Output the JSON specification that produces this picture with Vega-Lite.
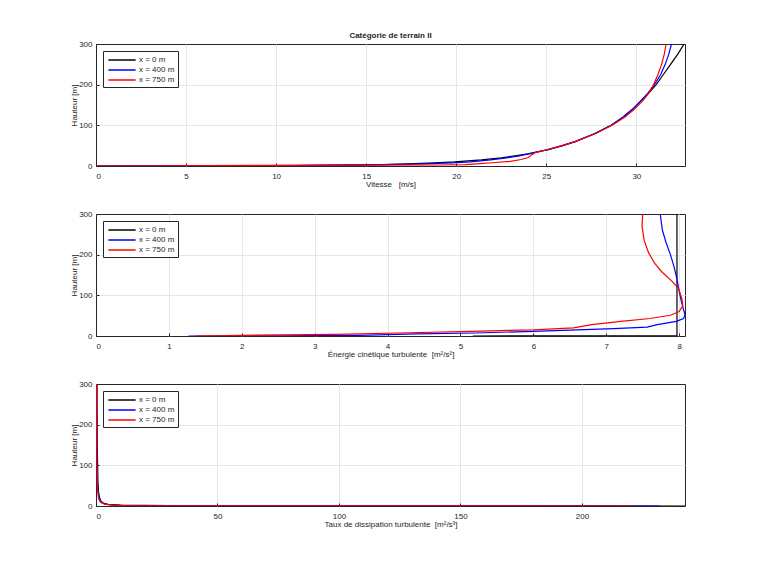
{
  "$schema": "https://vega.github.io/schema/vega-lite/v6.json",
  "background": "white",
  "padding": {"left": 70, "top": 31, "right": 10, "bottom": 10},
  "spacing": 20,
  "datasets": {
    "vitesse": [
      {"profil": "x = 0 m", "valeur": 0, "hauteur": 0},
      {"profil": "x = 0 m", "valeur": 6.7, "hauteur": 0.3},
      {"profil": "x = 0 m", "valeur": 9.3, "hauteur": 0.6},
      {"profil": "x = 0 m", "valeur": 11.2, "hauteur": 1},
      {"profil": "x = 0 m", "valeur": 13.8, "hauteur": 2},
      {"profil": "x = 0 m", "valeur": 15.9, "hauteur": 3.5},
      {"profil": "x = 0 m", "valeur": 17.3, "hauteur": 5},
      {"profil": "x = 0 m", "valeur": 18.8, "hauteur": 7.5},
      {"profil": "x = 0 m", "valeur": 19.9, "hauteur": 10},
      {"profil": "x = 0 m", "valeur": 21.4, "hauteur": 15},
      {"profil": "x = 0 m", "valeur": 22.5, "hauteur": 20},
      {"profil": "x = 0 m", "valeur": 24.0, "hauteur": 30},
      {"profil": "x = 0 m", "valeur": 25.1, "hauteur": 40},
      {"profil": "x = 0 m", "valeur": 25.9, "hauteur": 50},
      {"profil": "x = 0 m", "valeur": 26.6, "hauteur": 60},
      {"profil": "x = 0 m", "valeur": 27.7, "hauteur": 80},
      {"profil": "x = 0 m", "valeur": 28.6, "hauteur": 100},
      {"profil": "x = 0 m", "valeur": 29.25, "hauteur": 120},
      {"profil": "x = 0 m", "valeur": 29.8, "hauteur": 140},
      {"profil": "x = 0 m", "valeur": 30.25, "hauteur": 160},
      {"profil": "x = 0 m", "valeur": 30.7, "hauteur": 180},
      {"profil": "x = 0 m", "valeur": 31.1, "hauteur": 200},
      {"profil": "x = 0 m", "valeur": 31.5, "hauteur": 225},
      {"profil": "x = 0 m", "valeur": 31.9, "hauteur": 250},
      {"profil": "x = 0 m", "valeur": 32.3, "hauteur": 275},
      {"profil": "x = 0 m", "valeur": 32.65, "hauteur": 300},
      {"profil": "x = 400 m", "valeur": 0, "hauteur": 0},
      {"profil": "x = 400 m", "valeur": 3.5, "hauteur": 0.3},
      {"profil": "x = 400 m", "valeur": 6.5, "hauteur": 0.6},
      {"profil": "x = 400 m", "valeur": 9.5, "hauteur": 1},
      {"profil": "x = 400 m", "valeur": 13.0, "hauteur": 2},
      {"profil": "x = 400 m", "valeur": 16.0, "hauteur": 3.5},
      {"profil": "x = 400 m", "valeur": 18.2, "hauteur": 5},
      {"profil": "x = 400 m", "valeur": 19.8, "hauteur": 7.5},
      {"profil": "x = 400 m", "valeur": 20.8, "hauteur": 10},
      {"profil": "x = 400 m", "valeur": 21.9, "hauteur": 15},
      {"profil": "x = 400 m", "valeur": 22.8, "hauteur": 20},
      {"profil": "x = 400 m", "valeur": 23.5, "hauteur": 25},
      {"profil": "x = 400 m", "valeur": 24.0, "hauteur": 30},
      {"profil": "x = 400 m", "valeur": 24.3, "hauteur": 33},
      {"profil": "x = 400 m", "valeur": 24.6, "hauteur": 36},
      {"profil": "x = 400 m", "valeur": 25.1, "hauteur": 40},
      {"profil": "x = 400 m", "valeur": 25.9, "hauteur": 50},
      {"profil": "x = 400 m", "valeur": 26.6, "hauteur": 60},
      {"profil": "x = 400 m", "valeur": 27.7, "hauteur": 80},
      {"profil": "x = 400 m", "valeur": 28.6, "hauteur": 100},
      {"profil": "x = 400 m", "valeur": 29.25, "hauteur": 120},
      {"profil": "x = 400 m", "valeur": 29.8, "hauteur": 140},
      {"profil": "x = 400 m", "valeur": 30.25, "hauteur": 160},
      {"profil": "x = 400 m", "valeur": 30.65, "hauteur": 180},
      {"profil": "x = 400 m", "valeur": 31.0, "hauteur": 200},
      {"profil": "x = 400 m", "valeur": 31.35, "hauteur": 225},
      {"profil": "x = 400 m", "valeur": 31.6, "hauteur": 250},
      {"profil": "x = 400 m", "valeur": 31.8, "hauteur": 275},
      {"profil": "x = 400 m", "valeur": 31.95, "hauteur": 300},
      {"profil": "x = 750 m", "valeur": 0, "hauteur": 0},
      {"profil": "x = 750 m", "valeur": 3, "hauteur": 0.5},
      {"profil": "x = 750 m", "valeur": 6, "hauteur": 1},
      {"profil": "x = 750 m", "valeur": 10, "hauteur": 1.5},
      {"profil": "x = 750 m", "valeur": 15, "hauteur": 2},
      {"profil": "x = 750 m", "valeur": 19, "hauteur": 2.5},
      {"profil": "x = 750 m", "valeur": 20.5, "hauteur": 3.5},
      {"profil": "x = 750 m", "valeur": 21.3, "hauteur": 6},
      {"profil": "x = 750 m", "valeur": 22.0, "hauteur": 8},
      {"profil": "x = 750 m", "valeur": 23.0, "hauteur": 11.5},
      {"profil": "x = 750 m", "valeur": 23.6, "hauteur": 16},
      {"profil": "x = 750 m", "valeur": 24.0, "hauteur": 21},
      {"profil": "x = 750 m", "valeur": 24.2, "hauteur": 28},
      {"profil": "x = 750 m", "valeur": 24.4, "hauteur": 33},
      {"profil": "x = 750 m", "valeur": 25.0, "hauteur": 40},
      {"profil": "x = 750 m", "valeur": 25.85, "hauteur": 50},
      {"profil": "x = 750 m", "valeur": 26.6, "hauteur": 60},
      {"profil": "x = 750 m", "valeur": 27.75, "hauteur": 80},
      {"profil": "x = 750 m", "valeur": 28.65, "hauteur": 100},
      {"profil": "x = 750 m", "valeur": 29.35, "hauteur": 120},
      {"profil": "x = 750 m", "valeur": 29.9, "hauteur": 140},
      {"profil": "x = 750 m", "valeur": 30.35, "hauteur": 160},
      {"profil": "x = 750 m", "valeur": 30.7, "hauteur": 180},
      {"profil": "x = 750 m", "valeur": 30.95, "hauteur": 200},
      {"profil": "x = 750 m", "valeur": 31.2, "hauteur": 225},
      {"profil": "x = 750 m", "valeur": 31.4, "hauteur": 250},
      {"profil": "x = 750 m", "valeur": 31.55, "hauteur": 275},
      {"profil": "x = 750 m", "valeur": 31.65, "hauteur": 300}
    ],
    "tke": [
      {"profil": "x = 0 m", "valeur": 5.17, "hauteur": 0},
      {"profil": "x = 0 m", "valeur": 7.97, "hauteur": 0.5},
      {"profil": "x = 0 m", "valeur": 7.97, "hauteur": 300},
      {"profil": "x = 400 m", "valeur": 1.27, "hauteur": 0},
      {"profil": "x = 400 m", "valeur": 2.5, "hauteur": 0.3},
      {"profil": "x = 400 m", "valeur": 3.6, "hauteur": 1.5},
      {"profil": "x = 400 m", "valeur": 4.4, "hauteur": 5},
      {"profil": "x = 400 m", "valeur": 5.2, "hauteur": 7.4},
      {"profil": "x = 400 m", "valeur": 6.0, "hauteur": 11.5},
      {"profil": "x = 400 m", "valeur": 6.6, "hauteur": 15},
      {"profil": "x = 400 m", "valeur": 7.1, "hauteur": 18},
      {"profil": "x = 400 m", "valeur": 7.56, "hauteur": 22},
      {"profil": "x = 400 m", "valeur": 7.7, "hauteur": 28},
      {"profil": "x = 400 m", "valeur": 7.96, "hauteur": 36},
      {"profil": "x = 400 m", "valeur": 8.06, "hauteur": 43},
      {"profil": "x = 400 m", "valeur": 8.08, "hauteur": 52},
      {"profil": "x = 400 m", "valeur": 8.06, "hauteur": 65},
      {"profil": "x = 400 m", "valeur": 8.03, "hauteur": 85},
      {"profil": "x = 400 m", "valeur": 8.0, "hauteur": 110},
      {"profil": "x = 400 m", "valeur": 7.97, "hauteur": 140},
      {"profil": "x = 400 m", "valeur": 7.93, "hauteur": 170},
      {"profil": "x = 400 m", "valeur": 7.88, "hauteur": 200},
      {"profil": "x = 400 m", "valeur": 7.82, "hauteur": 230},
      {"profil": "x = 400 m", "valeur": 7.77, "hauteur": 260},
      {"profil": "x = 400 m", "valeur": 7.74, "hauteur": 300},
      {"profil": "x = 750 m", "valeur": 1.36, "hauteur": 0},
      {"profil": "x = 750 m", "valeur": 2.0, "hauteur": 1.6},
      {"profil": "x = 750 m", "valeur": 3.3, "hauteur": 4},
      {"profil": "x = 750 m", "valeur": 4.3, "hauteur": 8},
      {"profil": "x = 750 m", "valeur": 5.0, "hauteur": 11},
      {"profil": "x = 750 m", "valeur": 6.0, "hauteur": 15},
      {"profil": "x = 750 m", "valeur": 6.55, "hauteur": 20},
      {"profil": "x = 750 m", "valeur": 6.8, "hauteur": 28},
      {"profil": "x = 750 m", "valeur": 7.2, "hauteur": 36},
      {"profil": "x = 750 m", "valeur": 7.6, "hauteur": 43},
      {"profil": "x = 750 m", "valeur": 7.88, "hauteur": 51},
      {"profil": "x = 750 m", "valeur": 8.0, "hauteur": 60},
      {"profil": "x = 750 m", "valeur": 8.05, "hauteur": 75},
      {"profil": "x = 750 m", "valeur": 8.04, "hauteur": 90},
      {"profil": "x = 750 m", "valeur": 7.99, "hauteur": 117},
      {"profil": "x = 750 m", "valeur": 7.9, "hauteur": 135},
      {"profil": "x = 750 m", "valeur": 7.76, "hauteur": 158},
      {"profil": "x = 750 m", "valeur": 7.66, "hauteur": 180},
      {"profil": "x = 750 m", "valeur": 7.58, "hauteur": 205},
      {"profil": "x = 750 m", "valeur": 7.52, "hauteur": 235},
      {"profil": "x = 750 m", "valeur": 7.49, "hauteur": 270},
      {"profil": "x = 750 m", "valeur": 7.5, "hauteur": 300}
    ],
    "dissipation": [
      {"profil": "x = 0 m", "valeur": 242.4, "hauteur": 0},
      {"profil": "x = 0 m", "valeur": 40, "hauteur": 0.6},
      {"profil": "x = 0 m", "valeur": 20, "hauteur": 1.5},
      {"profil": "x = 0 m", "valeur": 10, "hauteur": 2.5},
      {"profil": "x = 0 m", "valeur": 5, "hauteur": 4},
      {"profil": "x = 0 m", "valeur": 3, "hauteur": 7},
      {"profil": "x = 0 m", "valeur": 2, "hauteur": 12},
      {"profil": "x = 0 m", "valeur": 1.5, "hauteur": 20},
      {"profil": "x = 0 m", "valeur": 1.1, "hauteur": 30},
      {"profil": "x = 0 m", "valeur": 0.8, "hauteur": 60},
      {"profil": "x = 0 m", "valeur": 0.5, "hauteur": 150},
      {"profil": "x = 0 m", "valeur": 0.4, "hauteur": 300},
      {"profil": "x = 400 m", "valeur": 232, "hauteur": 0},
      {"profil": "x = 400 m", "valeur": 30, "hauteur": 0.5},
      {"profil": "x = 400 m", "valeur": 12, "hauteur": 1.2},
      {"profil": "x = 400 m", "valeur": 6, "hauteur": 2.5},
      {"profil": "x = 400 m", "valeur": 3.5, "hauteur": 5},
      {"profil": "x = 400 m", "valeur": 2, "hauteur": 10},
      {"profil": "x = 400 m", "valeur": 1.3, "hauteur": 20},
      {"profil": "x = 400 m", "valeur": 1.0, "hauteur": 34},
      {"profil": "x = 400 m", "valeur": 0.6, "hauteur": 45},
      {"profil": "x = 400 m", "valeur": 0.3, "hauteur": 80},
      {"profil": "x = 400 m", "valeur": 0.25, "hauteur": 300},
      {"profil": "x = 750 m", "valeur": 221, "hauteur": 0},
      {"profil": "x = 750 m", "valeur": 25, "hauteur": 0.4},
      {"profil": "x = 750 m", "valeur": 12, "hauteur": 1},
      {"profil": "x = 750 m", "valeur": 7, "hauteur": 2},
      {"profil": "x = 750 m", "valeur": 4, "hauteur": 4},
      {"profil": "x = 750 m", "valeur": 2.5, "hauteur": 7},
      {"profil": "x = 750 m", "valeur": 1.5, "hauteur": 12},
      {"profil": "x = 750 m", "valeur": 1.0, "hauteur": 20},
      {"profil": "x = 750 m", "valeur": 0.6, "hauteur": 40},
      {"profil": "x = 750 m", "valeur": 0.4, "hauteur": 80},
      {"profil": "x = 750 m", "valeur": 0.3, "hauteur": 150},
      {"profil": "x = 750 m", "valeur": 0.3, "hauteur": 300}
    ]
  },
  "vconcat": [
    {
      "title": {"text": "Catégorie de terrain II", "fontSize": 8, "fontWeight": "bold", "offset": 0, "color": "#262626"},
      "width": 589,
      "height": 122,
      "data": {"name": "vitesse"},
      "mark": {"type": "line", "strokeWidth": 1.2, "clip": true},
      "encoding": {
        "x": {"field": "valeur", "type": "quantitative", "scale": {"domain": [0, 32.7], "nice": false}, "axis": {"values": [0, 5, 10, 15, 20, 25, 30], "title": "Vitesse\u00a0\u00a0 [m/s]"}},
        "y": {"field": "hauteur", "type": "quantitative", "scale": {"domain": [0, 300], "nice": false}, "axis": {"values": [0, 100, 200, 300], "title": "Hauteur [m]"}},
        "color": {"field": "profil", "type": "nominal", "scale": {"domain": ["x = 0 m", "x = 400 m", "x = 750 m"], "range": ["#000000", "#0000ff", "#ff0000"]}},
        "order": {"field": "hauteur", "type": "quantitative"}
      }
    },
    {
      "width": 589,
      "height": 122,
      "data": {"name": "tke"},
      "mark": {"type": "line", "strokeWidth": 1.2, "clip": true},
      "encoding": {
        "x": {"field": "valeur", "type": "quantitative", "scale": {"domain": [0, 8.08], "nice": false}, "axis": {"values": [0, 1, 2, 3, 4, 5, 6, 7, 8], "title": "Énergie cinétique turbulente\u00a0 [m²/s²]"}},
        "y": {"field": "hauteur", "type": "quantitative", "scale": {"domain": [0, 300], "nice": false}, "axis": {"values": [0, 100, 200, 300], "title": "Hauteur [m]"}},
        "color": {"field": "profil", "type": "nominal", "scale": {"domain": ["x = 0 m", "x = 400 m", "x = 750 m"], "range": ["#000000", "#0000ff", "#ff0000"]}},
        "order": {"field": "hauteur", "type": "quantitative"}
      }
    },
    {
      "width": 589,
      "height": 122,
      "data": {"name": "dissipation"},
      "mark": {"type": "line", "strokeWidth": 1.2, "clip": true},
      "encoding": {
        "x": {"field": "valeur", "type": "quantitative", "scale": {"domain": [0, 242.4], "nice": false}, "axis": {"values": [0, 50, 100, 150, 200], "title": "Taux de dissipation turbulente\u00a0 [m²/s³]"}},
        "y": {"field": "hauteur", "type": "quantitative", "scale": {"domain": [0, 300], "nice": false}, "axis": {"values": [0, 100, 200, 300], "title": "Hauteur [m]"}},
        "color": {"field": "profil", "type": "nominal", "scale": {"domain": ["x = 0 m", "x = 400 m", "x = 750 m"], "range": ["#000000", "#0000ff", "#ff0000"]}},
        "order": {"field": "hauteur", "type": "quantitative"}
      }
    }
  ],
  "resolve": {"scale": {"color": "independent"}, "legend": {"color": "independent"}},
  "config": {
    "font": "Liberation Sans",
    "view": {"stroke": "#262626", "strokeWidth": 1},
    "axis": {
      "labelFontSize": 8,
      "titleFontSize": 8,
      "titleFontWeight": "normal",
      "labelColor": "#262626",
      "titleColor": "#262626",
      "gridColor": {"condition": {"test": "datum.value === 0 || datum.value === 300", "value": "transparent"}, "value": "#e6e6e6"},
      "domain": false,
      "tickColor": "#262626",
      "tickSize": -3,
      "titlePadding": 0
    },
    "axisX": {"labelPadding": 9},
    "axisY": {"labelPadding": 7},
    "legend": {
      "orient": "top-left",
      "title": null,
      "offset": 7,
      "padding": 3,
      "strokeColor": "#262626",
      "fillColor": "white",
      "symbolType": "M-2.6,0H2.6",
      "symbolSize": 110,
      "symbolOffset": 10,
      "symbolStrokeWidth": 1.5,
      "labelFontSize": 8,
      "labelColor": "#262626",
      "rowPadding": 0,
      "labelOffset": 11
    }
  }
}
